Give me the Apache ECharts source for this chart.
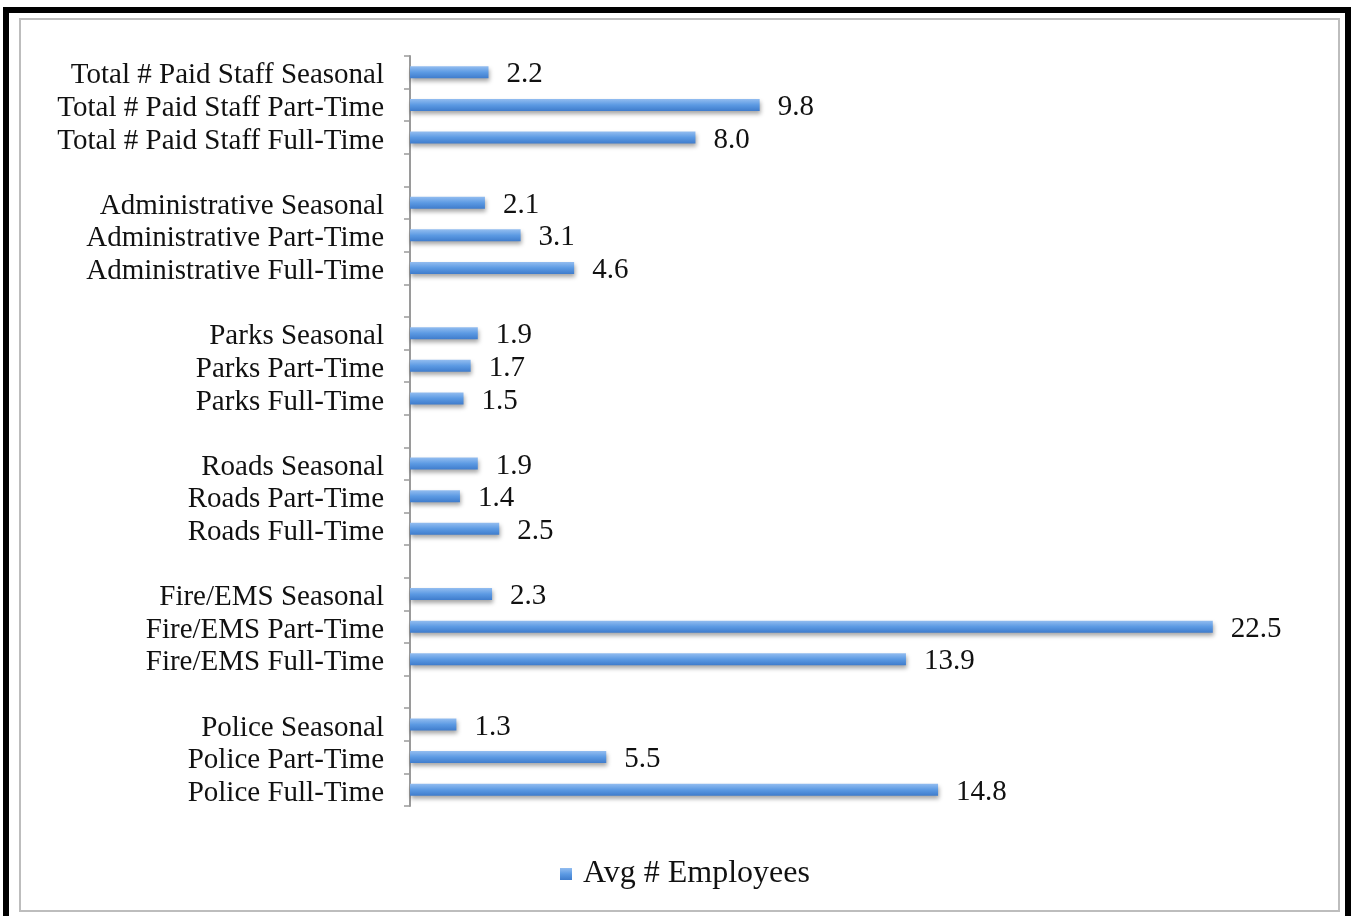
<!DOCTYPE html>
<html>
<head>
<meta charset="utf-8">
<script src="https://cdn.jsdelivr.net/npm/echarts@6/dist/echarts.min.js"></script>
<style>
html,body{margin:0;padding:0;background:#fff;width:1351px;height:916px;overflow:hidden;}
#frame{position:absolute;left:3px;top:7px;width:1348px;height:915px;border:6px solid #000;box-sizing:border-box;}
#inner{position:absolute;left:19px;top:18px;width:1321px;height:894px;border:2px solid #bdbdbd;box-sizing:border-box;}
#chart{position:absolute;left:0;top:0;width:1351px;height:916px;}
</style>
</head>
<body>
<div id="frame"></div>
<div id="inner"></div>
<div id="chart"></div>
<script>
// Categories listed top to bottom; whitespace entries are blank spacer rows
const categories = [
  'Total # Paid Staff Seasonal', 'Total # Paid Staff Part-Time', 'Total # Paid Staff Full-Time', '',
  'Administrative Seasonal', 'Administrative Part-Time', 'Administrative Full-Time', ' ',
  'Parks Seasonal', 'Parks Part-Time', 'Parks Full-Time', '  ',
  'Roads Seasonal', 'Roads Part-Time', 'Roads Full-Time', '   ',
  'Fire/EMS Seasonal', 'Fire/EMS Part-Time', 'Fire/EMS Full-Time', '    ',
  'Police Seasonal', 'Police Part-Time', 'Police Full-Time'
];
const avgEmployees = [
  2.2, 9.8, 8.0, null,
  2.1, 3.1, 4.6, null,
  1.9, 1.7, 1.5, null,
  1.9, 1.4, 2.5, null,
  2.3, 22.5, 13.9, null,
  1.3, 5.5, 14.8
];
const seriesName = 'Avg # Employees';

const chart = echarts.init(document.getElementById('chart'));
const serif = '"Liberation Serif", "Times New Roman", serif';
const richText = { t: { fontFamily: serif, fontSize: 29, color: '#111', padding: [7, 0, 0, 0] } };
chart.setOption({
  animation: false,
  textStyle: { fontFamily: serif },
  legend: {
    top: 853,
    left: 555,
    icon: 'rect',
    itemWidth: 12,
    itemHeight: 12,
    itemGap: 10,
    textStyle: { fontFamily: serif, fontSize: 32, color: '#111', padding: [4, 0, 0, 6] },
    data: [seriesName]
  },
  grid: { left: 410, right: 49, top: 56, bottom: 110, containLabel: false },
  xAxis: {
    type: 'value', min: 0, max: 25,
    show: false
  },
  yAxis: {
    type: 'category',
    inverse: true,
    data: categories,
    axisLine: { show: true, lineStyle: { color: '#9a9a9a', width: 2 } },
    axisTick: { show: true, length: 6, lineStyle: { color: '#9a9a9a', width: 1.5 } },
    axisLabel: {
      fontFamily: serif, fontSize: 29, color: '#111', margin: 26, interval: 0,
      formatter: v => (v.trim() === '' ? '' : '{t|' + v + '}'),
      rich: richText
    },
    splitLine: { show: false }
  },
  series: [{
    name: seriesName,
    type: 'bar',
    data: avgEmployees,
    barWidth: 12,
    itemStyle: {
      color: new echarts.graphic.LinearGradient(0, 0, 0, 1, [
        { offset: 0, color: '#93bdf0' },
        { offset: 0.5, color: '#5c9ae3' },
        { offset: 1, color: '#3f7ccc' }
      ]),
      shadowColor: 'rgba(0,0,0,0.35)',
      shadowBlur: 4,
      shadowOffsetY: 3,
      shadowOffsetX: 1
    },
    label: {
      show: true,
      position: 'right',
      distance: 18,
      fontFamily: serif,
      fontSize: 29,
      color: '#111',
      formatter: p => (p.value == null ? '' : '{t|' + Number(p.value).toFixed(1) + '}'),
      rich: { t: { fontFamily: serif, fontSize: 29, color: '#111', padding: [5, 0, 0, 0] } }
    }
  }]
});
</script>
</body>
</html>
